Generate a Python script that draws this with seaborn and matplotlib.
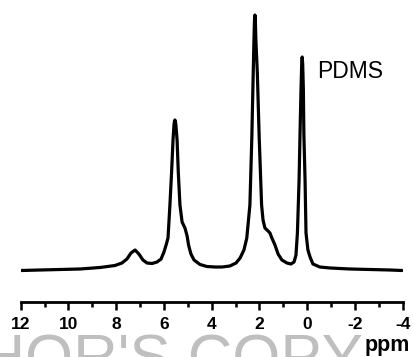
import numpy as np
import pandas as pd
import seaborn as sns
import matplotlib
matplotlib.use("Agg")
import matplotlib.pyplot as plt

# Spectrum: chemical shift (ppm) and intensity (a.u.)
ppm = [11.99, 11.19, 10.35, 9.52, 8.68, 8.05, 7.76, 7.55, 7.38, 7.21,
       7.05, 6.88, 6.71, 6.50, 6.29, 6.12, 6.00, 5.91, 5.83, 5.75,
       5.68, 5.62, 5.58, 5.56, 5.54, 5.52, 5.50, 5.45, 5.40, 5.33,
       5.24, 5.12, 5.03, 4.97, 4.87, 4.74, 4.49, 4.20, 3.86, 3.57,
       3.24, 2.98, 2.81, 2.65, 2.53, 2.40, 2.32, 2.26, 2.23, 2.21,
       2.19, 2.17, 2.15, 2.09, 2.01, 1.91, 1.85, 1.77, 1.64, 1.56,
       1.48, 1.35, 1.22, 1.06, 0.85, 0.68, 0.55, 0.47, 0.41, 0.34,
       0.30, 0.26, 0.23, 0.21, 0.19, 0.16, 0.14, 0.09, 0.05, -0.03,
       -0.12, -0.24, -0.53, -0.96, -1.79, -2.63, -3.47, -3.97]
intensity = [31.0, 31.5, 32.0, 32.5, 34.0, 36.0, 38.5, 42.5, 48.5, 51.5,
             47.5, 41.5, 38.5, 38.0, 39.5, 42.5, 49.5, 56.5, 63.5, 96.5,
             129.5, 161.5, 176.5, 180.0, 181.5, 180.0, 176.5, 161.5, 129.5, 96.5,
             79.5, 73.5, 65.5, 56.5, 47.5, 41.5, 37.0, 35.0, 34.5, 34.5,
             35.5, 38.5, 43.5, 51.5, 63.5, 96.5, 163.5, 229.5, 261.5, 280.0,
             286.5, 280.0, 261.5, 229.5, 163.5, 96.5, 81.5, 73.5, 70.5, 68.5,
             63.5, 56.5, 47.5, 41.5, 38.5, 37.5, 39.5, 46.5, 68.5, 121.5,
             168.5, 211.5, 238.0, 244.5, 238.0, 211.5, 168.5, 121.5, 68.5, 51.5,
             44.5, 37.5, 34.5, 33.5, 32.5, 32.0, 31.5, 31.0]

xticks = [12, 10, 8, 6, 4, 2, 0, -2, -4]
minor_ticks = [11, 9, 7, 5, 3, 1, -1, -3]

df = pd.DataFrame({"ppm": ppm, "intensity": intensity})

sns.set_theme(style="white")
plt.rcParams["font.family"] = ["Liberation Sans", "DejaVu Sans"]

fig = plt.figure(figsize=(4.13, 3.57), dpi=100)
ax = fig.add_axes([20.7 / 413, 55.5 / 357, 382.0 / 413, 301.5 / 357])

# watermark behind everything (cut off by the lower edge, as in the reference)
fig.text(363 / 413, -20 / 357, "AUTHOR'S COPY", ha="right", va="baseline",
         fontsize=44.5, color="#bfbfbf", zorder=0)

sns.lineplot(data=df, x="ppm", y="intensity", ax=ax, color="black",
             linewidth=2.3, sort=False, estimator=None)
for l in ax.lines:
    l.set_solid_joinstyle("round")
    l.set_solid_capstyle("round")

ax.set_xlim(12, -4)
ax.set_ylim(0, 301.5)
ax.patch.set_alpha(0)
for s in ["top", "left", "right"]:
    ax.spines[s].set_visible(False)
ax.spines["bottom"].set_linewidth(2.0)
ax.spines["bottom"].set_color("black")
ax.set_yticks([])
ax.set_xticks(xticks)
ax.set_xticks(minor_ticks, minor=True)
ax.set_xticklabels([str(t) for t in xticks], fontweight="bold", fontsize=12.5)
ax.tick_params(axis="x", which="major", direction="out", length=6, width=1.8,
               color="black", pad=5, labelcolor="black", bottom=True)
ax.tick_params(axis="x", which="minor", direction="out", length=3.5, width=1.8,
               color="black", bottom=True)
ax.set_xlabel("")
ax.set_ylabel("")

fig.text(317 / 413, (357 - 78) / 357, "PDMS", fontsize=16.5, ha="left",
         va="baseline", color="black")
fig.text(365 / 413, (357 - 351) / 357, "ppm", fontsize=15.5, fontweight="bold",
         ha="left", va="baseline", color="black")

fig.savefig("out.png", dpi=100)
